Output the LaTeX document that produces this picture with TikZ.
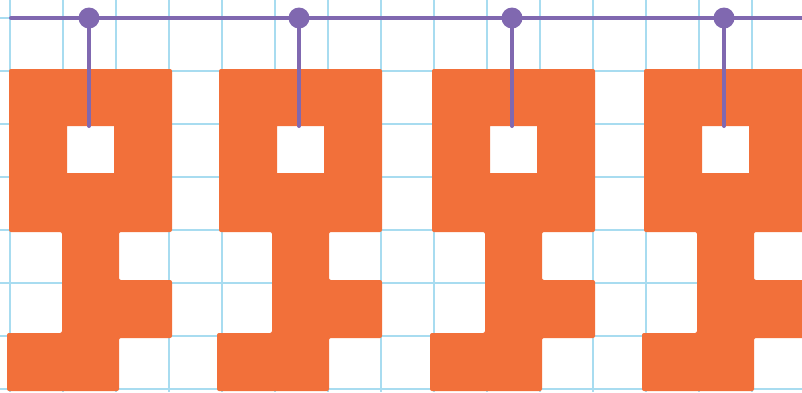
\documentclass[tikz,border=0pt]{standalone}
\definecolor{keyorange}{HTML}{F2703A}
\definecolor{bitpurple}{HTML}{8068B0}
\definecolor{gridblue}{HTML}{A8DCF0}
\tikzset{
  gridline/.style={draw=gridblue, line width=1.1pt},
  keyshape/.style={fill=keyorange, even odd rule},
  wire/.style={draw=bitpurple, line width=4pt, line cap=round},
  bitdot/.style={circle, fill=bitpurple, inner sep=0pt, minimum size=21pt}
}
\begin{document}
\begin{tikzpicture}[x=1pt,y=-1pt]
\useasboundingbox (0,0) rectangle (802,392);
\clip (0,0) rectangle (802,392);
% grid
\foreach \gx in {10,63,...,805} \draw[gridline] (\gx,0) -- (\gx,392);
\foreach \gy in {18,71,...,389} \draw[gridline] (0,\gy) -- (802,\gy);
% keys
\foreach \o in {0,210,423,635} {
  \begin{scope}[xshift=\o pt]
    \fill[keyshape] [rounded corners=2pt] (9,69) -- (172,69) -- (172,232) -- (119,232) -- (119,280) -- (172,280) -- (172,338) -- (119,338) -- (119,391) -- (7,391) -- (7,333) -- (62,333) -- (62,232) -- (9,232) -- cycle
      [sharp corners] (67,126) rectangle (114,173);
  \end{scope}
}
% rail
\coordinate (railstart) at (11,18);
\coordinate (railend) at (805,18);
\draw[wire] (railstart) -- (railend);
\foreach \o/\n in {0/a,210/b,423/c,635/d} {
  \coordinate (pin\n) at (89+\o,126);
  \node[bitdot] (dot\n) at (89+\o,18) {};
  \draw[wire] (dot\n.center) -- (pin\n);
}
\end{tikzpicture}
\end{document}
